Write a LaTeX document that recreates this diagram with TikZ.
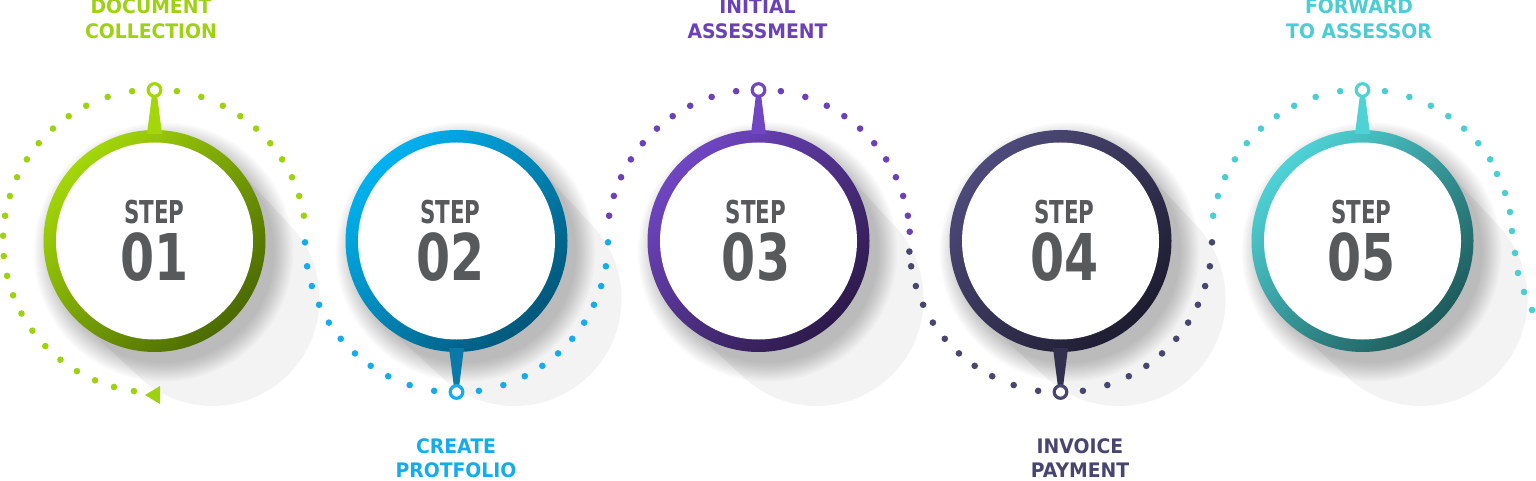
\documentclass[tikz,border=0pt]{standalone}
\usepackage{fontspec}
\setmainfont{DejaVu Sans}
\newfontfamily\stepfont[FakeStretch=0.68]{DejaVu Sans}
\newfontfamily\numfont[FakeStretch=0.76]{DejaVu Sans}
\newfontfamily\labfont[FakeStretch=0.94]{DejaVu Sans}
\definecolor{txtgray}{HTML}{58595B}
\definecolor{blobgray}{HTML}{F3F3F3}
\definecolor{cAlight}{HTML}{A4D70A}\definecolor{cAdark}{HTML}{4B6A00}\definecolor{cAdot}{HTML}{9ED10F}
\definecolor{cBlight}{HTML}{00B2F0}\definecolor{cBdark}{HTML}{00577A}\definecolor{cBdot}{HTML}{16ABE9}\definecolor{cBstem}{HTML}{0A79A8}
\definecolor{cClight}{HTML}{7046C2}\definecolor{cCdark}{HTML}{2D1A4A}\definecolor{cCdot}{HTML}{6B41B8}
\definecolor{cDlight}{HTML}{4E4A7A}\definecolor{cDdark}{HTML}{1E1C30}\definecolor{cDdot}{HTML}{48456F}\definecolor{cDstem}{HTML}{33304F}
\definecolor{cElight}{HTML}{4FD2D6}\definecolor{cEdark}{HTML}{1E5B5B}\definecolor{cEdot}{HTML}{4BCDD1}
\newcommand\dotarc[5]{\foreach \dd in {#4}{\fill[#5] ({#1+151.5*cos(#2+(#3)*\dd)},{239+151.5*sin(#2+(#3)*\dd)}) circle[radius=3.3];}}
\begin{document}
\begin{tikzpicture}[x=1pt,y=1pt,
  lab/.style={font=\labfont\bfseries\fontsize{20}{20}\selectfont, anchor=base, inner sep=0pt},
  steptxt/.style={font=\stepfont\bfseries\fontsize{31.5}{31.5}\selectfont, text=txtgray, anchor=base, inner sep=0pt},
  numtxt/.style={font=\numfont\bfseries\fontsize{64.5}{64.5}\selectfont, text=txtgray, anchor=base, inner sep=0pt},
  pinring/.style={line width=3.2, fill=white}]
\useasboundingbox (0,0) rectangle (1536,480);
\fill[white] (0,0) rectangle (1536,480);
% blobs and soft shadows
\foreach \cx in {154.5,456.5,758.5,1060.5,1362.5}{
  \fill[blobgray] (\cx+77.8,316.8) -- (\cx+58+75.7,239-58+75.7) arc[start angle=45,end angle=-135,radius=107]
     -- (\cx-77.8,239-77.8) arc[start angle=225,end angle=45,radius=110] -- cycle;
  \foreach \k in {0,...,11}{\fill[black,opacity=0.02] (\cx+9,228) circle[radius=111+1.7*\k];}
}
% dotted arcs
\dotarc{154.5}{90}{1}{8.5,18,26.8,34.5,42.1,49.8,57.4,65.1,72.7,80.4,88,95.7,103.3,111,118.6,126.3,133.9,141.6,149.2,156.9,164.5,172.2}{cAdot}
\dotarc{154.5}{90}{-1}{8.5,18,26.8,34.5,42.1,49.8,57.4,65.1,72.7,80.4}{cAdot}
\fill[cAdot] (145,85) -- (160,94) -- (160,76) -- cycle;
\dotarc{456.5}{270}{-1}{8.5,18,26.8,34.5,42.1,49.8,57.4,65.1,72.7,80.4,89.5}{cBdot}
\dotarc{456.5}{270}{1}{8.5,18,26.8,34.5,42.1,49.8,57.4,65.1,72.7,80.4,89.5}{cBdot}
\dotarc{758.5}{90}{1}{8.5,18,26.8,34.5,42.1,49.8,57.4,65.1,72.7,80.4}{cCdot}
\dotarc{758.5}{90}{-1}{8.5,18,26.8,34.5,42.1,49.8,57.4,65.1,72.7,80.4,86.5}{cCdot}
\dotarc{1060.5}{270}{-1}{8.5,18,26.8,34.5,42.1,49.8,57.4,65.1,72.7,80.4,86}{cDdot}
\dotarc{1060.5}{270}{1}{8.5,18,26.8,34.5,42.1,49.8,57.4,65.1,72.7,80.4,89.5}{cDdot}
\dotarc{1362.5}{90}{1}{8.5,18,26.8,34.5,42.1,49.8,57.4,65.1,72.7,80.4}{cEdot}
\dotarc{1362.5}{90}{-1}{8.5,18,26.8,34.5,42.1,49.8,57.4}{cEdot}
\foreach \p in {(1497,306),(1505,287),(1510,268),(1512,249),(1515,227),(1518,207),(1524,188),(1532,170)}{\fill[cEdot] \p circle[radius=3.3];}
% rings and pins
\foreach \cx/\lc/\dc/\sc/\rc/\up in {154.5/cAlight/cAdark/cAlight/cAlight/1, 456.5/cBlight/cBdark/cBstem/cBdot/-1, 758.5/cClight/cCdark/cClight/cClight/1, 1060.5/cDlight/cDdark/cDstem/cDdot/-1, 1362.5/cElight/cEdark/cElight/cElight/1}{
  \shade[top color=\lc, bottom color=\dc, shading angle=45] (\cx,239) circle[radius=111];
  \fill[white] (\cx,239) circle[radius=98.5];
  \fill[\sc] (\cx-7.5,239+\up*107) -- (\cx+7.5,239+\up*107) -- (\cx+2.8,239+\up*144) -- (\cx-2.8,239+\up*144) -- cycle;
  \draw[pinring, draw=\rc] (\cx,239+\up*151) circle[radius=6.3];
}
% step texts
\node[steptxt] (s1a) at (154.5,257) {STEP};
\node[numtxt] (s1b) at (154.5,200) {01};
\node[steptxt] (s2a) at (450.5,257) {STEP};
\node[numtxt] (s2b) at (450.5,200) {02};
\node[steptxt] (s3a) at (756,257) {STEP};
\node[numtxt] (s3b) at (756,200) {03};
\node[steptxt] (s4a) at (1064.5,257) {STEP};
\node[numtxt] (s4b) at (1064.5,200) {04};
\node[steptxt] (s5a) at (1361.5,257) {STEP};
\node[numtxt] (s5b) at (1361.5,200) {05};
% labels
\node[lab, text=cBdot] (t2a) at (456,26.5) {CREATE};
\node[lab, text=cBdot] (t2b) at (456,3) {PROTFOLIO};
\node[lab, text=cAdot] (t1a) at (151,466.5) {DOCUMENT};
\node[lab, text=cAdot] (t1b) at (151,441.7) {COLLECTION};
\node[lab, text=cCdot] (t3a) at (757.5,466.5) {INITIAL};
\node[lab, text=cCdot] (t3b) at (757.5,441.7) {ASSESSMENT};
\node[lab, text=cDdot] (t4a) at (1080,26.5) {INVOICE};
\node[lab, text=cDdot] (t4b) at (1080,3) {PAYMENT};
\node[lab, text=cEdot] (t5a) at (1359,466.5) {FORWARD};
\node[lab, text=cEdot] (t5b) at (1359,441.7) {TO ASSESSOR};
\end{tikzpicture}
\end{document}
